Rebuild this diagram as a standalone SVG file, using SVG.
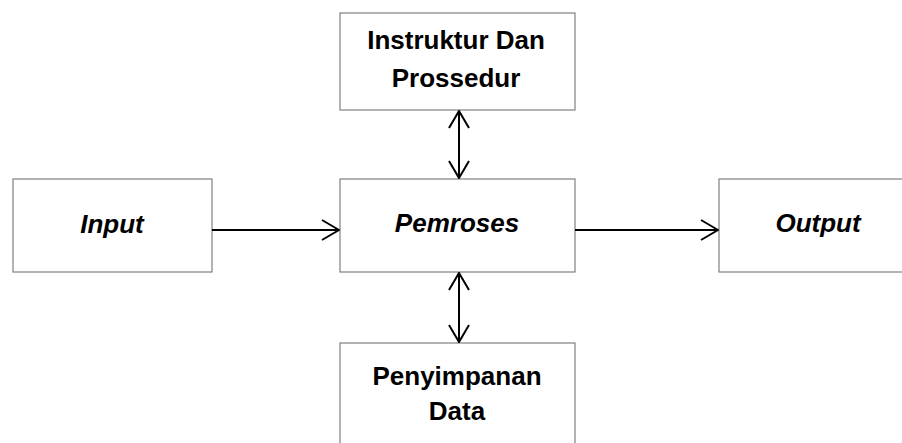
<svg xmlns="http://www.w3.org/2000/svg" width="902" height="443" viewBox="0 0 902 443">
  <defs>
    <style>
      .box { fill: #ffffff; stroke: #808080; stroke-width: 1.2; }
      .lbl { font-family: "Liberation Sans", Arial, sans-serif; font-weight: bold; font-size: 26px; fill: #000; text-anchor: middle; }
      .it { font-style: italic; }
      .wire { stroke: #000; stroke-width: 2; fill: none; }
    </style>
    <marker id="head" viewBox="0 0 20 24" refX="19" refY="12" markerWidth="20" markerHeight="24" markerUnits="userSpaceOnUse" orient="auto-start-reverse">
      <path d="M2,2 L19,12 L2,22" fill="none" stroke="#000" stroke-width="2"/>
    </marker>
  </defs>
  <rect width="902" height="443" fill="#ffffff"/>

  <g id="instruktur">
    <rect class="box" x="340" y="13" width="235" height="97"/>
    <text class="lbl" x="456" y="48.5">Instruktur Dan</text>
    <text class="lbl" x="456" y="87">Prossedur</text>
  </g>

  <g id="input">
    <rect class="box" x="13" y="179" width="199" height="93"/>
    <text class="lbl it" x="112" y="233">Input</text>
  </g>

  <g id="pemroses">
    <rect class="box" x="340" y="179" width="235" height="93"/>
    <text class="lbl it" x="457" y="231.5">Pemroses</text>
  </g>

  <g id="output">
    <rect class="box" x="719" y="179" width="200" height="93"/>
    <text class="lbl it" x="818" y="232">Output</text>
  </g>

  <g id="penyimpanan">
    <rect class="box" x="340" y="343" width="235" height="120"/>
    <text class="lbl" x="457" y="385">Penyimpanan</text>
    <text class="lbl" x="457" y="420">Data</text>
  </g>

  <g id="connectors">
    <line class="wire" x1="212" y1="230" x2="339" y2="230" marker-end="url(#head)"/>
    <line class="wire" x1="575" y1="230" x2="718" y2="230" marker-end="url(#head)"/>
    <line class="wire" x1="459" y1="111" x2="459" y2="178" marker-start="url(#head)" marker-end="url(#head)"/>
    <line class="wire" x1="459" y1="273" x2="459" y2="342" marker-start="url(#head)" marker-end="url(#head)"/>
  </g>
</svg>
